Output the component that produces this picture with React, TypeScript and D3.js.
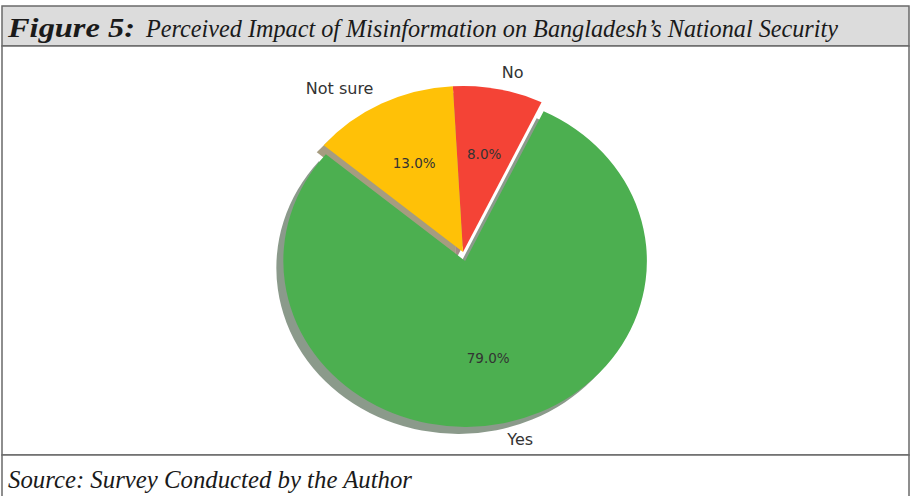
import React from "react";
import * as d3 from "d3";

const labels = ["Yes", "No", "Not sure"];
const values = [79, 8, 13];
const colors = ["#4CAF50", "#F44336", "#FFC107"];
const explode = [0.055, 0, 0];
const startDeg = 140; // matplotlib startangle, counter-clockwise

const W = 912;
const H = 496;
const cx = 463;
const cy = 252;
const R = 166;
const sx = 1.095;
const shadowDx = -7;
const shadowDy = 7;
const serif = "'Times New Roman', 'Liberation Serif', Times, serif";

function darken(c: string) {
  const col = d3.rgb(c);
  return d3.rgb(col.r * 0.3, col.g * 0.3, col.b * 0.3).formatHex();
}

export default function App() {
  const a0 = ((90 - startDeg) * Math.PI) / 180;
  const pie = d3
    .pie<number>()
    .sort(null)
    .value((d) => d)
    .startAngle(a0)
    .endAngle(a0 - 2 * Math.PI);
  const arcs = pie(values);
  const arc = d3.arc<d3.PieArcDatum<number>>().innerRadius(0).outerRadius(R);
  const labelArc = d3
    .arc<d3.PieArcDatum<number>>()
    .innerRadius(R * 1.1)
    .outerRadius(R * 1.1);
  const pctArc = d3
    .arc<d3.PieArcDatum<number>>()
    .innerRadius(R * 0.6)
    .outerRadius(R * 0.6);
  const total = d3.sum(values);

  const offs = arcs.map((a, i) => {
    const m = (a.startAngle + a.endAngle) / 2;
    return [Math.sin(m) * explode[i] * R, -Math.cos(m) * explode[i] * R];
  });

  return (
    <svg
      width={W}
      height={H}
      style={{ position: "absolute", left: 0, top: 0, background: "#fff" }}
    >
      {/* frame */}
      <rect x={2} y={6} width={907} height={40} fill="#dcdcdc" stroke="#6a6a6a" strokeWidth={1.5} />
      <rect x={2} y={46} width={907} height={409} fill="#fff" stroke="#6a6a6a" strokeWidth={1.5} />
      <rect x={2} y={455} width={907} height={50} fill="#fff" stroke="#6a6a6a" strokeWidth={1.5} />

      <text
        x={8}
        y={37}
        fontFamily={serif}
        fontWeight="bold"
        fontStyle="italic"
        fontSize={27}
        fill="#1a1a1a"
        textLength={127}
        lengthAdjust="spacingAndGlyphs"
      >
        Figure 5:
      </text>
      <text
        x={146}
        y={37}
        fontFamily={serif}
        fontStyle="italic"
        fontSize={25}
        fill="#1a1a1a"
        textLength={692}
        lengthAdjust="spacingAndGlyphs"
      >
        Perceived Impact of  Misinformation on Bangladesh’s National Security
      </text>
      <text
        x={8}
        y={488}
        fontFamily={serif}
        fontStyle="italic"
        fontSize={25}
        fill="#1a1a1a"
        textLength={404}
        lengthAdjust="spacingAndGlyphs"
      >
        Source: Survey Conducted by the Author
      </text>

      {/* shadows */}
      <g transform={`translate(${cx + shadowDx},${cy + shadowDy}) scale(${sx},1)`}>
        {arcs.map((a, i) => (
          <path
            key={"s" + i}
            d={arc(a) || ""}
            transform={`translate(${offs[i][0]},${offs[i][1]})`}
            fill={darken(colors[i])}
            fillOpacity={0.5}
          />
        ))}
      </g>
      {/* wedges */}
      <g transform={`translate(${cx},${cy}) scale(${sx},1)`}>
        {arcs.map((a, i) => (
          <path
            key={"w" + i}
            d={arc(a) || ""}
            transform={`translate(${offs[i][0]},${offs[i][1]})`}
            fill={colors[i]}
          />
        ))}
      </g>
      {/* labels */}
      {arcs.map((a, i) => {
        const [lx, ly] = labelArc.centroid(a);
        const x = cx + (lx + offs[i][0]) * sx;
        const y = cy + ly + offs[i][1];
        return (
          <text
            key={"l" + i}
            x={x}
            y={y}
            dy="0.35em"
            textAnchor={lx > 0 ? "start" : "end"}
            fontFamily="'DejaVu Sans', sans-serif"
            fontSize={16}
            fill="#333"
          >
            {labels[i]}
          </text>
        );
      })}
      {arcs.map((a, i) => {
        const [px, py] = pctArc.centroid(a);
        const x = cx + (px + offs[i][0]) * sx;
        const y = cy + py + offs[i][1];
        return (
          <text
            key={"p" + i}
            x={x}
            y={y}
            dy="0.35em"
            textAnchor="middle"
            fontFamily="'DejaVu Sans', sans-serif"
            fontSize={13.5}
            fill="#333"
          >
            {((values[i] / total) * 100).toFixed(1) + "%"}
          </text>
        );
      })}
    </svg>
  );
}
